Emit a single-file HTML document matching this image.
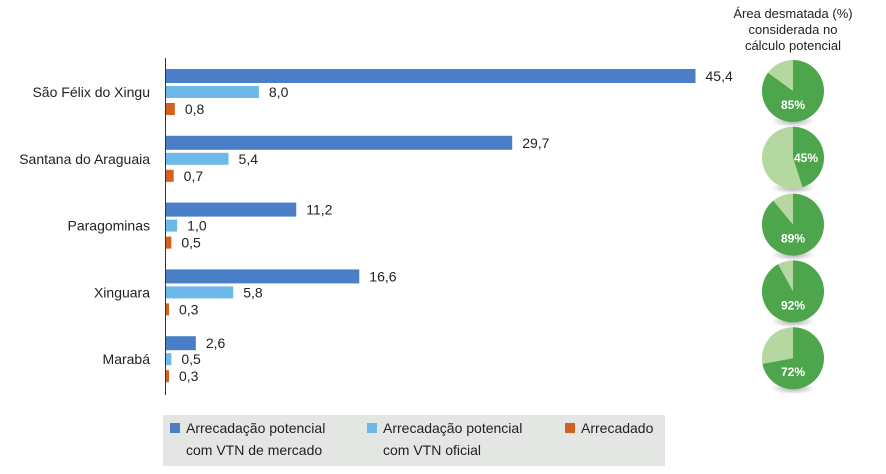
<!DOCTYPE html>
<html><head><meta charset="utf-8"><style>
body{margin:0;background:#fff;font-family:"Liberation Sans",sans-serif;}
svg{display:block}
</style></head><body>
<svg width="886" height="474" font-family="Liberation Sans, sans-serif">
<defs><radialGradient id="sh" cx="50%" cy="50%" r="50%"><stop offset="0" stop-color="#555" stop-opacity="0.5"/><stop offset="1" stop-color="#555" stop-opacity="0"/></radialGradient></defs>
<g id="bars"></g>
<line x1="165.5" y1="58" x2="165.5" y2="395" stroke="#333" stroke-width="1"/>
<text x="793" y="18" text-anchor="middle" font-size="13" fill="#222">Área desmatada (%)</text>
<text x="793" y="34" text-anchor="middle" font-size="13" fill="#222">considerada no</text>
<text x="793" y="50" text-anchor="middle" font-size="13" fill="#222">cálculo potencial</text>
<g id="pies"></g>
<rect x="163" y="415" width="502" height="51" fill="#e3e6e2"/>
<g><rect x="170" y="423" width="10" height="10" fill="#4a7ec6"/><text x="186" y="433" font-size="14" fill="#222">Arrecadação potencial</text><text x="186" y="455" font-size="14" fill="#222">com VTN de mercado</text></g>
<g><rect x="367" y="423" width="10" height="10" fill="#6cb8e8"/><text x="383" y="433" font-size="14" fill="#222">Arrecadação potencial</text><text x="383" y="455" font-size="14" fill="#222">com VTN oficial</text></g>
<g><rect x="565" y="423" width="10" height="10" fill="#d0611f"/><text x="581" y="433" font-size="14" fill="#222">Arrecadado</text></g>
</svg>
<script>
const categories=["São Félix do Xingu","Santana do Araguaia","Paragominas","Xinguara","Marabá"];
const marketVals=[45.4,29.7,11.2,16.6,2.6];
const officialVals=[8.0,5.4,1.0,5.8,0.5];
const collectedVals=[0.8,0.7,0.5,0.3,0.3];
const piePct=[85,45,89,92,72];
const NS="http://www.w3.org/2000/svg";
const x0=165.5, k=530/45.4;
const xs=v=>k*v;
const gy=i=>69+i*66.8;
const bars=document.getElementById('bars');
function mk(t,a,p){const e=document.createElementNS(NS,t);for(const n in a)e.setAttribute(n,a[n]);p.appendChild(e);return e;}
const fmt=v=>v.toFixed(1).replace('.',',');
categories.forEach((c,i)=>{
 const y=gy(i);
 const lab=mk('text',{x:150,y:y+28,'text-anchor':'end','font-size':14,fill:'#222'},bars);lab.textContent=c;
 
 
 [[marketVals,'#4a7ec6',0,14],[officialVals,'#6cb8e8',17,12],[collectedVals,'#d0611f',34,12]].forEach(([arr,col,off,h],j)=>{
  const w=xs(arr[i]);
  const r=mk('rect',{x:x0,y:y+off,width:w,height:h,fill:col},bars);
  
  
  const t=mk('text',{x:x0+w+10,y:y+off+h/2+5,'font-size':14,fill:'#222'},bars);t.textContent=fmt(arr[i]);
  
  
 });
});
const pies=document.getElementById('pies');
piePct.forEach((p,i)=>{
 const cx=793,cy=91+i*66.8,r=31;
 const g=mk('g',{},pies);
 
 
 mk('ellipse',{cx:cx,cy:cy+30,rx:22,ry:6,fill:'url(#sh)'},g);
 mk('circle',{cx:cx,cy:cy,r:r,fill:'#b5d8a0'},g);
 const a=p/100*2*Math.PI;
 const ex=cx+r*Math.sin(a),ey=cy-r*Math.cos(a);
 mk('path',{d:`M${cx},${cy} L${cx},${cy-r} A${r},${r} 0 ${p>50?1:0} 1 ${ex},${ey} Z`,fill:'#4ea64c'},g);
 const t=mk('text',{x:p>50?cx:cx+13,y:p>50?cy+18:cy+4,'text-anchor':'middle','font-size':12,'font-weight':'bold',fill:'#fff'},g);t.textContent=p+'%';
});
</script>
</body></html>
